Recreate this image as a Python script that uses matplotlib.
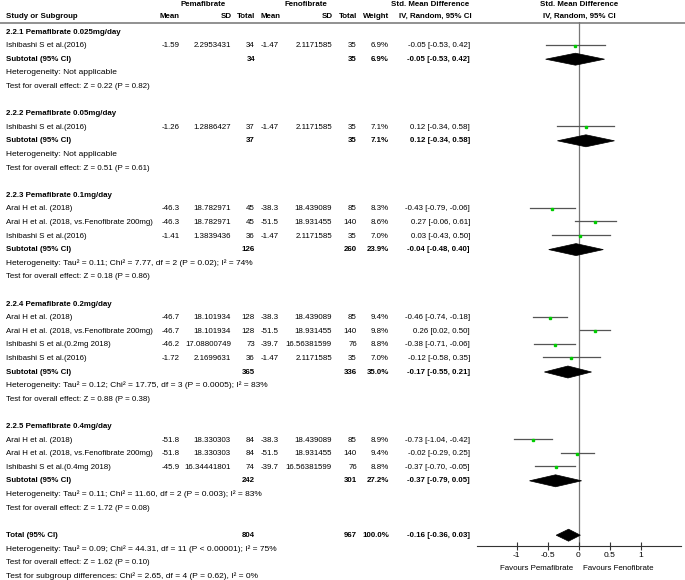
import matplotlib
matplotlib.use("Agg")
import matplotlib.pyplot as plt
from matplotlib.patches import Polygon

plt.rcParams['font.family'] = ['Liberation Sans', 'DejaVu Sans']
FS = 5.7
FS_HET = 6.0

# ---------------- data ----------------
group_titles = ["2.2.1 Pemafibrate 0.025mg/day", "2.2.2 Pemafibrate 0.05mg/day",
                "2.2.3 Pemafibrate 0.1mg/day", "2.2.4 Pemafibrate 0.2mg/day",
                "2.2.5 Pemafibrate 0.4mg/day"]
study_names = [
    ["Ishibashi S et al.(2016)"],
    ["Ishibashi S et al.(2016)"],
    ["Arai H et al. (2018)", "Arai H et al. (2018, vs.Fenofibrate 200mg)", "Ishibashi S et al.(2016)"],
    ["Arai H et al. (2018)", "Arai H et al. (2018, vs.Fenofibrate 200mg)",
     "Ishibashi S et al.(0.2mg 2018)", "Ishibashi S et al.(2016)"],
    ["Arai H et al. (2018)", "Arai H et al. (2018, vs.Fenofibrate 200mg)", "Ishibashi S et al.(0.4mg 2018)"],
]
pema_mean = [["-1.59"], ["-1.26"], ["-46.3", "-46.3", "-1.41"],
             ["-46.7", "-46.7", "-46.2", "-1.72"], ["-51.8", "-51.8", "-45.9"]]
pema_sd = [["2.2953431"], ["1.2886427"], ["18.782971", "18.782971", "1.3839436"],
           ["18.101934", "18.101934", "17.08800749", "2.1699631"],
           ["18.330303", "18.330303", "16.34441801"]]
pema_n = [[34], [37], [45, 45, 36], [128, 128, 73, 36], [84, 84, 74]]
feno_mean = [["-1.47"], ["-1.47"], ["-38.3", "-51.5", "-1.47"],
             ["-38.3", "-51.5", "-39.7", "-1.47"], ["-38.3", "-51.5", "-39.7"]]
feno_sd = [["2.1171585"], ["2.1171585"], ["18.439089", "18.931455", "2.1171585"],
           ["18.439089", "18.931455", "16.56381599", "2.1171585"],
           ["18.439089", "18.931455", "16.56381599"]]
feno_n = [[35], [35], [85, 140, 35], [85, 140, 76, 35], [85, 140, 76]]
weights = [[6.9], [7.1], [8.3, 8.6, 7.0], [9.4, 9.8, 8.8, 7.0], [8.9, 9.4, 8.8]]
smd = [[-0.05], [0.12], [-0.43, 0.27, 0.03], [-0.46, 0.26, -0.38, -0.12], [-0.73, -0.02, -0.37]]
smd_lo = [[-0.53], [-0.34], [-0.79, -0.06, -0.43], [-0.74, 0.02, -0.71, -0.58], [-1.04, -0.29, -0.70]]
smd_hi = [[0.42], [0.58], [-0.06, 0.61, 0.50], [-0.18, 0.50, -0.06, 0.35], [-0.42, 0.25, -0.05]]

sub_pema_n = [34, 37, 126, 365, 242]
sub_feno_n = [35, 35, 260, 336, 301]
sub_weight = [6.9, 7.1, 23.9, 35.0, 27.2]
sub_smd = [-0.05, 0.12, -0.04, -0.17, -0.37]
sub_lo = [-0.53, -0.34, -0.48, -0.55, -0.79]
sub_hi = [0.42, 0.58, 0.40, 0.21, 0.05]
sub_het = ["Heterogeneity: Not applicable",
           "Heterogeneity: Not applicable",
           "Heterogeneity: Tau² = 0.11; Chi² = 7.77, df = 2 (P = 0.02); I² = 74%",
           "Heterogeneity: Tau² = 0.12; Chi² = 17.75, df = 3 (P = 0.0005); I² = 83%",
           "Heterogeneity: Tau² = 0.11; Chi² = 11.60, df = 2 (P = 0.003); I² = 83%"]
sub_test = ["Test for overall effect: Z = 0.22 (P = 0.82)",
            "Test for overall effect: Z = 0.51 (P = 0.61)",
            "Test for overall effect: Z = 0.18 (P = 0.86)",
            "Test for overall effect: Z = 0.88 (P = 0.38)",
            "Test for overall effect: Z = 1.72 (P = 0.08)"]

total_pema_n = 804
total_feno_n = 967
total_weight = 100.0
total_smd, total_lo, total_hi = -0.16, -0.36, 0.03
total_het = "Heterogeneity: Tau² = 0.09; Chi² = 44.31, df = 11 (P < 0.00001); I² = 75%"
total_test = "Test for overall effect: Z = 1.62 (P = 0.10)"
subgroup_test = "Test for subgroup differences: Chi² = 2.65, df = 4 (P = 0.62), I² = 0%"

xticks = [-1, -0.5, 0, 0.5, 1]
xtick_labels = ["-1", "-0.5", "0", "0.5", "1"]

# ---------------- layout ----------------
W, H = 685, 580
fig = plt.figure(figsize=(W / 100, H / 100), dpi=100)
tax = fig.add_axes([0, 0, 1, 1])
tax.set_xlim(0, W)
tax.set_ylim(H, 0)
tax.axis('off')

# forest axes (pixel-aligned vertically)
FX0, FX1, ZERO_PX, UNIT_PX = 477, 681, 578.5, 62.0
FY_TOP, FY_BOT = 22, 546
fax = fig.add_axes([FX0 / W, (H - FY_BOT) / H, (FX1 - FX0) / W, (FY_BOT - FY_TOP) / H])
fax.set_xlim((FX0 - ZERO_PX) / UNIT_PX, (FX1 - ZERO_PX) / UNIT_PX)
fax.set_ylim(FY_BOT, FY_TOP)
fax.patch.set_alpha(0)
for s in ['top', 'left', 'right']:
    fax.spines[s].set_visible(False)
fax.spines['bottom'].set_color('#333333')
fax.spines['bottom'].set_linewidth(0.8)
fax.set_yticks([])
fax.set_xticks(xticks)
fax.set_xticklabels(xtick_labels, fontsize=FS + 0.3)
fax.tick_params(axis='x', direction='inout', length=6, width=0.8, color='#333333', pad=1.5)
fax.axvline(0, color='#777777', lw=0.9, zorder=1)

# columns (right edges)
X_NAME, X_PM, X_PSD, X_PN, X_FM, X_FSD, X_FN, X_W, X_CI = 6, 180, 231, 255, 279, 332, 357, 389, 470

def txt(x, y, s, ha='left', bold=False, fs=FS):
    tax.text(x, y, s, ha=ha, va='center', fontsize=fs,
             fontweight='bold' if bold else 'normal', color='black')

# headers
txt(203, 4, "Pemafibrate", 'center', True)
txt(306, 4, "Fenofibrate", 'center', True)
txt(430, 4, "Std. Mean Difference", 'center', True)
txt(579, 4, "Std. Mean Difference", 'center', True)
txt(X_NAME, 16.5, "Study or Subgroup", 'left', True)
txt(X_PM, 16.5, "Mean", 'right', True)
txt(X_PSD + 1, 16.5, "SD", 'right', True)
txt(X_PN, 16.5, "Total", 'right', True)
txt(X_FM + 2, 16.5, "Mean", 'right', True)
txt(X_FSD + 1, 16.5, "SD", 'right', True)
txt(X_FN, 16.5, "Total", 'right', True)
txt(X_W, 16.5, "Weight", 'right', True)
txt(X_CI + 2, 16.5, "IV, Random, 95% CI", 'right', True)
txt(579, 16.5, "IV, Random, 95% CI", 'center', True)
tax.plot([0, W], [22.5, 22.5], color='#888888', lw=1.3)

Y0, STEP = 32, 13.6
row = 0

def ci_str(m, lo, hi):
    return f"{m:.2f} [{lo:.2f}, {hi:.2f}]"

def diamond(y, m, lo, hi, h=6.0):
    fax.add_patch(Polygon([[lo, y], [m, y - h], [hi, y], [m, y + h]], closed=True,
                          facecolor='black', edgecolor='black', lw=0.5, zorder=3))

for g in range(len(group_titles)):
    y = Y0 + row * STEP
    txt(X_NAME, y, group_titles[g], 'left', True)
    row += 1
    for i in range(len(study_names[g])):
        y = Y0 + row * STEP
        txt(X_NAME, y, study_names[g][i])
        txt(X_PM, y, pema_mean[g][i], 'right')
        txt(X_PSD, y, pema_sd[g][i], 'right')
        txt(X_PN, y, str(pema_n[g][i]), 'right')
        txt(X_FM, y, feno_mean[g][i], 'right')
        txt(X_FSD, y, feno_sd[g][i], 'right')
        txt(X_FN, y, str(feno_n[g][i]), 'right')
        txt(X_W, y, f"{weights[g][i]:.1f}%", 'right')
        txt(X_CI, y, ci_str(smd[g][i], smd_lo[g][i], smd_hi[g][i]), 'right')
        fax.plot([smd_lo[g][i], smd_hi[g][i]], [y - 1, y - 1], color='#555555', lw=0.9, zorder=2)
        fax.plot([smd[g][i]], [y], marker='s', ms=2.0 * (weights[g][i] / 8.5) ** 0.5,
                 color='#00cc00', mec='#00cc00', zorder=4, clip_on=False)
        row += 1
    y = Y0 + row * STEP
    txt(X_NAME, y, "Subtotal (95% CI)", 'left', True)
    txt(X_PN, y, str(sub_pema_n[g]), 'right', True)
    txt(X_FN, y, str(sub_feno_n[g]), 'right', True)
    txt(X_W, y, f"{sub_weight[g]:.1f}%", 'right', True)
    txt(X_CI, y, ci_str(sub_smd[g], sub_lo[g], sub_hi[g]), 'right', True)
    diamond(y, sub_smd[g], sub_lo[g], sub_hi[g])
    row += 1
    txt(X_NAME, Y0 + row * STEP, sub_het[g], fs=FS_HET)
    row += 1
    txt(X_NAME, Y0 + row * STEP, sub_test[g])
    row += 2

y = Y0 + row * STEP
txt(X_NAME, y, "Total (95% CI)", 'left', True)
txt(X_PN, y, str(total_pema_n), 'right', True)
txt(X_FN, y, str(total_feno_n), 'right', True)
txt(X_W, y, f"{total_weight:.1f}%", 'right', True)
txt(X_CI, y, ci_str(total_smd, total_lo, total_hi), 'right', True)
diamond(y, total_smd, total_lo, total_hi)
row += 1
txt(X_NAME, Y0 + row * STEP, total_het, fs=FS_HET)
row += 1
txt(X_NAME, Y0 + row * STEP, total_test)
row += 1
txt(X_NAME, Y0 + row * STEP, subgroup_test, fs=FS_HET)

txt(573, 568, "Favours Pemafibrate", 'right')
txt(583, 568, "Favours Fenofibrate", 'left')

fig.savefig("out.png", dpi=100)
